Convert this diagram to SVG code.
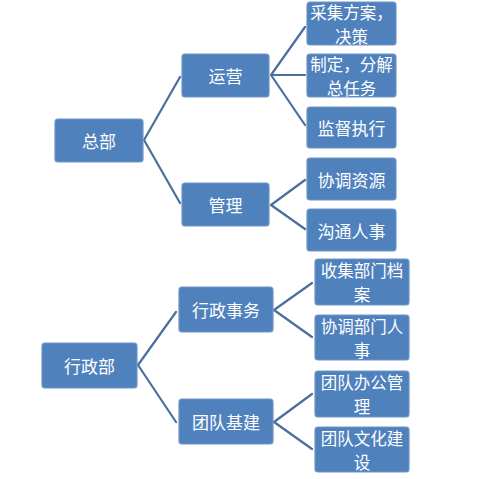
<svg xmlns="http://www.w3.org/2000/svg" width="490" height="479" viewBox="0 0 490 479">
<style>
.box{fill:#4F81BD;stroke:#6E95C8;stroke-width:1.2}
.lbl{font-family:"Noto Sans CJK SC","Noto Sans",sans-serif;font-size:17px;fill:#FFFFFF;text-anchor:middle;dominant-baseline:central}
.two{font-size:16.5px}
.con{stroke:#4A6E9E;stroke-width:2.2;fill:none;stroke-linecap:round}
</style>
<rect width="490" height="479" fill="#FFFFFF"/>
<g id="connectors">
<path class="con" d="M144,140 L180,77 M144,140 L180,203"/>
<path class="con" d="M271,75 L305,27 M271,75 L305,75 M271,75 L305,125"/>
<path class="con" d="M271,205 L305,180 M271,205 L305,229"/>
<path class="con" d="M138,365 L176,312 M138,365 L176,422"/>
<path class="con" d="M274,310 L312,283 M274,310 L312,337"/>
<path class="con" d="M274,422 L312,394 M274,422 L312,449"/>
</g>
<g id="n-zongbu"><rect class="box" x="55" y="119" width="88" height="43" rx="3"/><text class="lbl" x="99" y="140">总部</text></g>
<g id="n-yunying"><rect class="box" x="182" y="54" width="87" height="43" rx="3"/><text class="lbl" x="225.5" y="75">运营</text></g>
<g id="n-guanli"><rect class="box" x="182" y="183" width="87" height="43" rx="3"/><text class="lbl" x="225.5" y="204">管理</text></g>
<g id="n-caiji"><rect class="box" x="307" y="2" width="89" height="43" rx="3"/><text class="lbl two" x="351.5" y="12">采集方案，<tspan x="351.5" dy="24">决策</tspan></text></g>
<g id="n-zhiding"><rect class="box" x="307" y="54" width="89" height="43" rx="3"/><text class="lbl two" x="351.5" y="64">制定，分解<tspan x="351.5" dy="24">总任务</tspan></text></g>
<g id="n-jiandu"><rect class="box" x="307" y="107" width="89" height="41" rx="3"/><text class="lbl" x="351.5" y="127">监督执行</text></g>
<g id="n-xietiao"><rect class="box" x="307" y="158" width="89" height="42" rx="3"/><text class="lbl" x="351.5" y="179">协调资源</text></g>
<g id="n-goutong"><rect class="box" x="307" y="209" width="89" height="42" rx="3"/><text class="lbl" x="351.5" y="230">沟通人事</text></g>
<g id="n-xingzhengbu"><rect class="box" x="42" y="343" width="95" height="45" rx="3"/><text class="lbl" x="89.5" y="365.5">行政部</text></g>
<g id="n-xingzhengshiwu"><rect class="box" x="179" y="287" width="94" height="45" rx="3"/><text class="lbl" x="226" y="309.5">行政事务</text></g>
<g id="n-tuanduijijian"><rect class="box" x="179" y="399" width="94" height="45" rx="3"/><text class="lbl" x="226" y="421.5">团队基建</text></g>
<g id="n-shouji"><rect class="box" x="315" y="259" width="94" height="46" rx="3"/><text class="lbl two" x="362" y="270">收集部门档<tspan x="362" dy="24">案</tspan></text></g>
<g id="n-xietiaobumen"><rect class="box" x="315" y="315" width="94" height="45" rx="3"/><text class="lbl two" x="362" y="325.5">协调部门人<tspan x="362" dy="24">事</tspan></text></g>
<g id="n-bangong"><rect class="box" x="315" y="371" width="94" height="46" rx="3"/><text class="lbl two" x="362" y="382">团队办公管<tspan x="362" dy="24">理</tspan></text></g>
<g id="n-wenhua"><rect class="box" x="315" y="427" width="94" height="45" rx="3"/><text class="lbl two" x="362" y="437.5">团队文化建<tspan x="362" dy="24">设</tspan></text></g>
</svg>
